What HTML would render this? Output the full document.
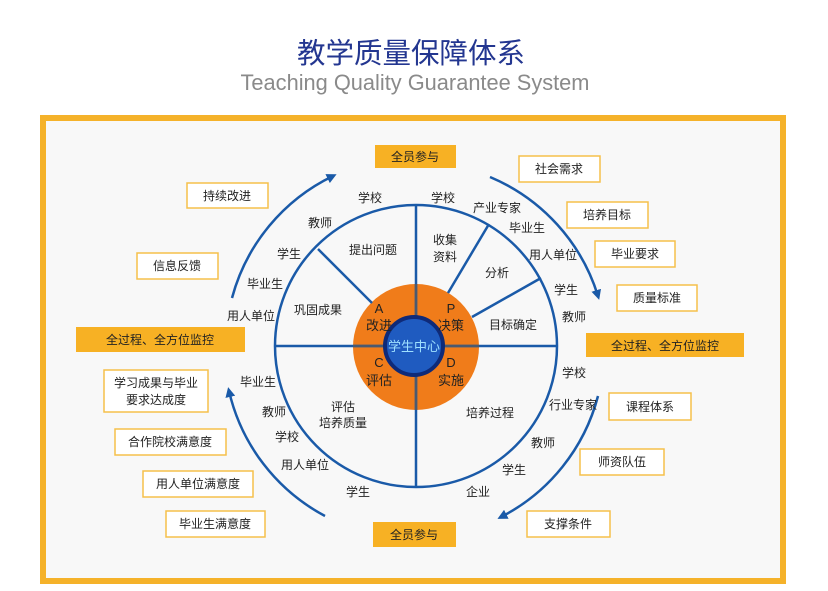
<!DOCTYPE html>
<html><head><meta charset="utf-8"><style>
body{margin:0;background:#fff;width:828px;height:591px;overflow:hidden}
svg{display:block}
text{font-family:"Liberation Sans","Noto Sans CJK SC",sans-serif}
</style></head><body>
<svg width="828" height="591" viewBox="0 0 828 591">
<defs><marker id="ah" markerWidth="10" markerHeight="10" refX="6" refY="5" orient="auto" markerUnits="userSpaceOnUse"><path d="M0,0 L10,5 L0,10 Z" fill="#1a5aa8"/></marker></defs>
<text x="411" y="63" font-size="28.5" fill="#233690" text-anchor="middle">教学质量保障体系</text>
<text x="415" y="90" font-size="21.8" fill="#8a8a8a" text-anchor="middle">Teaching Quality Guarantee System</text>
<rect x="43" y="118" width="740" height="463" fill="#f8f8f8" stroke="#f5b22a" stroke-width="6"/>
<g fill="none" stroke="#1a5aa8" stroke-width="2.5">
<path d="M232,298 A190,190 0 0 1 333,176" marker-end="url(#ah)"/>
<path d="M490,177 A190,190 0 0 1 598,296" marker-end="url(#ah)"/>
<path d="M598,396 A190,190 0 0 1 501,517" marker-end="url(#ah)"/>
<path d="M325,516 A190,190 0 0 1 229,391" marker-end="url(#ah)"/>
<circle cx="416" cy="346" r="141"/>
</g>
<circle cx="416" cy="347" r="63" fill="#f07c1a"/>
<g stroke="#1a5aa8" stroke-width="2.5">
<line x1="416" y1="205" x2="416" y2="488"/>
<line x1="275" y1="346" x2="557" y2="346"/>
<line x1="448" y1="293" x2="489" y2="224"/>
<line x1="472" y1="317" x2="541" y2="278"/>
<line x1="318" y1="249" x2="372" y2="303"/>
</g>
<g stroke="#4a5a70" stroke-width="2.5">
<line x1="416" y1="284" x2="416" y2="410"/>
<line x1="353" y1="346" x2="479" y2="346"/>
</g>
<circle cx="414" cy="346" r="29" fill="#1f5bc0" stroke="#0f2a78" stroke-width="4"/>
<text x="414" y="351" font-size="13" fill="#9fe0ff" text-anchor="middle">学生中心</text>
<g font-size="13" fill="#222" text-anchor="middle">
<text x="379" y="313">A</text><text x="379" y="330">改进</text>
<text x="451" y="313">P</text><text x="451" y="330">决策</text>
<text x="379" y="367">C</text><text x="379" y="385">评估</text>
<text x="451" y="367">D</text><text x="451" y="385">实施</text>
</g>
<g font-size="12" fill="#222" text-anchor="middle">
<text x="373" y="254">提出问题</text>
<text x="445" y="244">收集</text><text x="445" y="261">资料</text>
<text x="497" y="277">分析</text>
<text x="513" y="329">目标确定</text>
<text x="318" y="314">巩固成果</text>
<text x="343" y="411">评估</text><text x="343" y="427">培养质量</text>
<text x="490" y="417">培养过程</text>
<text x="370" y="202">学校</text><text x="443" y="202">学校</text>
<text x="497" y="212">产业专家</text><text x="527" y="232">毕业生</text>
<text x="553" y="259">用人单位</text><text x="566" y="294">学生</text>
<text x="574" y="321">教师</text><text x="320" y="227">教师</text>
<text x="289" y="258">学生</text><text x="265" y="288">毕业生</text>
<text x="251" y="320">用人单位</text><text x="258" y="386">毕业生</text>
<text x="274" y="416">教师</text><text x="287" y="441">学校</text>
<text x="305" y="469">用人单位</text><text x="358" y="496">学生</text>
<text x="478" y="496">企业</text><text x="514" y="474">学生</text>
<text x="543" y="447">教师</text><text x="573" y="409">行业专家</text>
<text x="574" y="377">学校</text>
</g>
<g fill="#f7b124">
<rect x="375" y="145" width="81" height="23"/>
<rect x="373" y="522" width="83" height="25"/>
<rect x="76" y="327" width="169" height="25"/>
<rect x="586" y="333" width="158" height="24"/>
</g>
<g font-size="12" fill="#222" text-anchor="middle">
<text x="415" y="161">全员参与</text>
<text x="414" y="539">全员参与</text>
<text x="160" y="344">全过程、全方位监控</text>
<text x="665" y="350">全过程、全方位监控</text>
</g>
<g fill="#fff" stroke="#f5c04a" stroke-width="1.5">
<rect x="187" y="183" width="81" height="25"/>
<rect x="137" y="253" width="81" height="26"/>
<rect x="519" y="156" width="81" height="26"/>
<rect x="567" y="202" width="81" height="26"/>
<rect x="595" y="241" width="80" height="26"/>
<rect x="617" y="285" width="80" height="26"/>
<rect x="104" y="370" width="104" height="42"/>
<rect x="115" y="429" width="111" height="26"/>
<rect x="143" y="471" width="110" height="26"/>
<rect x="166" y="511" width="99" height="26"/>
<rect x="609" y="393" width="82" height="27"/>
<rect x="580" y="449" width="84" height="26"/>
<rect x="527" y="511" width="83" height="26"/>
</g>
<g font-size="12" fill="#222" text-anchor="middle">
<text x="227" y="200">持续改进</text>
<text x="177" y="270">信息反馈</text>
<text x="559" y="173">社会需求</text>
<text x="607" y="219">培养目标</text>
<text x="635" y="258">毕业要求</text>
<text x="657" y="302">质量标准</text>
<text x="156" y="387">学习成果与毕业</text>
<text x="156" y="404">要求达成度</text>
<text x="170" y="446">合作院校满意度</text>
<text x="198" y="488">用人单位满意度</text>
<text x="215" y="528">毕业生满意度</text>
<text x="650" y="411">课程体系</text>
<text x="622" y="466">师资队伍</text>
<text x="568" y="528">支撑条件</text>
</g>
</svg>
</body></html>
